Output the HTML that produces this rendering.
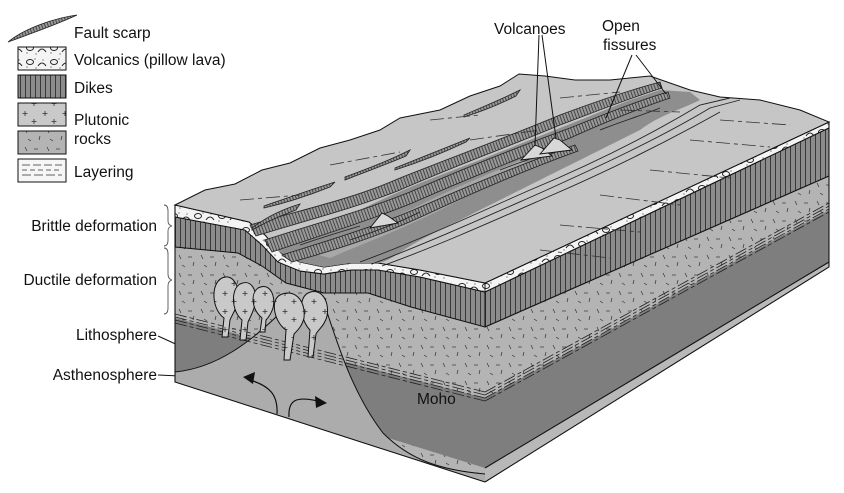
<!DOCTYPE html>
<html><head><meta charset="utf-8"><style>
html,body{margin:0;padding:0;background:#fff;}
svg{display:block;}
text{font-family:"Liberation Sans",Arial,sans-serif;font-size:15.5px;fill:#111;}
</style></head><body>
<svg width="844" height="493" viewBox="0 0 844 493" xmlns="http://www.w3.org/2000/svg">
<defs>
<pattern id="dk" width="5" height="10" patternUnits="userSpaceOnUse"><rect width="5" height="10" fill="#8c8c8c"/><line x1="0.5" y1="0" x2="0.5" y2="10" stroke="#222" stroke-width="0.8"/></pattern>
<pattern id="gb" width="22" height="18" patternUnits="userSpaceOnUse"><rect width="22" height="18" fill="#b4b4b4"/><g stroke="#333" stroke-width="0.7"><line x1="3" y1="3" x2="5" y2="7"/><line x1="12" y1="5" x2="16" y2="5"/><line x1="18" y1="10" x2="17" y2="14"/><line x1="6" y1="13" x2="9" y2="15"/></g></pattern>
<pattern id="pl" width="24" height="14" patternUnits="userSpaceOnUse"><rect width="24" height="14" fill="#f4f4f4"/><g fill="none" stroke="#222" stroke-width="1"><ellipse cx="6" cy="6" rx="3.5" ry="2.5"/><path d="M14 10 q4 -6 8 0"/></g><g fill="#444"><circle cx="11" cy="3" r="0.6"/><circle cx="19" cy="4" r="0.6"/><circle cx="3" cy="11" r="0.6"/><circle cx="12" cy="12" r="0.6"/></g></pattern>
<pattern id="fs" width="3" height="3" patternUnits="userSpaceOnUse" patternTransform="rotate(-20)"><rect width="3" height="3" fill="#9a9a9a"/><line x1="0.5" y1="0" x2="0.5" y2="3" stroke="#222" stroke-width="0.7"/></pattern>
<pattern id="pt" width="20" height="18" patternUnits="userSpaceOnUse"><rect width="20" height="18" fill="#c9c9c9"/><g stroke="#333" stroke-width="0.8"><path d="M5 3v5M2.5 5.5h5"/><path d="M14 11v5M11.5 13.5h5"/></g></pattern>
</defs>

<!-- Legend -->
<path d="M8 42 C25 28 55 18 77 15 C58 24 30 34 8 42Z" fill="url(#fs)" stroke="#222" stroke-width="0.8"/>
<text x="74" y="38">Fault scarp</text>
<rect x="18" y="47" width="48" height="23" fill="url(#pl)" stroke="#111" stroke-width="1"/>
<text x="74" y="65">Volcanics (pillow lava)</text>
<rect x="18" y="75" width="48" height="23" fill="url(#dk)" stroke="#111" stroke-width="1"/>
<text x="74" y="93">Dikes</text>
<rect x="18" y="103" width="48" height="23" fill="url(#pt)" stroke="#111" stroke-width="1"/>
<rect x="18" y="131" width="48" height="23" fill="url(#gb)" stroke="#111" stroke-width="1"/>
<text x="74" y="125">Plutonic</text>
<text x="74" y="144">rocks</text>
<rect x="18" y="159" width="48" height="23" fill="#f6f6f6" stroke="#111" stroke-width="1"/>
<g stroke="#333" stroke-width="0.8"><line x1="22" y1="165" x2="62" y2="165" stroke-dasharray="8 3"/><line x1="22" y1="170" x2="62" y2="170" stroke-dasharray="5 3"/><line x1="22" y1="175" x2="62" y2="175" stroke-dasharray="9 3"/></g>
<text x="74" y="177">Layering</text>

<!-- Left side labels -->
<text x="157" y="231" text-anchor="end">Brittle deformation</text>
<text x="157" y="285" text-anchor="end">Ductile deformation</text>
<text x="157" y="340" text-anchor="end">Lithosphere</text>
<text x="157" y="380" text-anchor="end">Asthenosphere</text>
<g fill="none" stroke="#555" stroke-width="0.9">
<path d="M164 205 q4 0 4 6 v10 q0 4 4 5 q-4 1 -4 5 v9 q0 6 -4 6"/>
<path d="M164 248 q4 0 4 6 v20 q0 5 4 6 q-4 1 -4 6 v22 q0 6 -4 6"/>
</g>
<g stroke="#111" stroke-width="1"><line x1="158" y1="336" x2="180" y2="346"/><line x1="158" y1="375" x2="180" y2="376"/></g>

<!-- Right face -->
<polygon points="485,283 829,122 829,128 485,292" fill="url(#pl)" stroke="#111" stroke-width="0.8"/>
<polygon points="485,292 829,128 829,176 485,327" fill="url(#dk)"/>
<polygon points="485,327 829,176 829,210 485,398" fill="url(#gb)"/>
<polygon points="485,398 829,210 829,262 485,468" fill="#7e7e7e"/>
<polygon points="485,468 829,262 829,267 485,482" fill="#b8b8b8"/>
<g stroke="#222" stroke-width="0.8" fill="none" stroke-dasharray="12 3 4 3">
<line x1="485" y1="392" x2="829" y2="203"/><line x1="485" y1="395" x2="829" y2="206"/><line x1="485" y1="398" x2="829" y2="209"/><line x1="485" y1="401" x2="829" y2="212"/>
</g>
<g stroke="#111" stroke-width="1.1" fill="none">
<polyline points="485,283 829,122 829,267 485,482"/>
<line x1="485" y1="292" x2="829" y2="128"/><line x1="485" y1="327" x2="829" y2="176"/><line x1="485" y1="468" x2="829" y2="262"/>
</g>

<!-- Left face -->
<polygon points="175,205 249,222 265,235 281,253 300,262 324,267 351,263 378,263 420,270 485,283 485,482 175,382" fill="url(#gb)"/>
<!-- mantle dark below layering -->
<polygon points="175,318 485,398 485,468 175,372" fill="#7e7e7e"/>
<!-- asthenosphere -->
<path d="M175,372 C215,368 250,345 293,300 L323,300 C335,335 350,390 383,433 C410,460 440,470 485,474 L485,482 L175,382Z" fill="#acacac"/>
<path d="M175,372 C215,368 250,345 293,300 M323,300 C335,335 350,390 383,433 C410,460 440,470 485,474" fill="none" stroke="#111" stroke-width="1"/>
<g stroke="#222" stroke-width="0.8" stroke-dasharray="12 3 4 3">
<line x1="175" y1="314" x2="485" y2="392"/><line x1="175" y1="317" x2="485" y2="395"/><line x1="175" y1="320" x2="485" y2="398"/><line x1="175" y1="323" x2="485" y2="401"/>
</g>
<!-- dikes band -->
<polygon points="175,217 245,230 262,245 278,262 300,271 324,274 351,270 378,270 420,277 485,292 485,327 411,307 368,293 324,293 286,283 262,266 238,253 175,247" fill="url(#dk)" stroke="#111" stroke-width="1"/>
<!-- pillow band -->
<polygon points="175,205 249,222 265,235 281,253 300,262 324,267 351,263 378,263 420,270 485,283 485,292 420,277 378,270 351,270 324,274 300,271 278,262 262,245 245,230 175,217" fill="url(#pl)" stroke="#111" stroke-width="0.9"/>
<!-- plumes -->
<g stroke="#111" stroke-width="1" fill="url(#pt)">
<path d="M222,337 L224,318 C212,310 210,284 222,278 C232,273 240,285 238,300 C236,310 232,315 230,320 L228,337Z"/>
<path d="M240,340 L242,320 C232,312 230,290 240,284 C252,278 258,292 255,305 C253,312 250,318 248,322 L246,340Z"/>
<path d="M260,332 L262,318 C252,310 250,294 258,288 C270,282 276,296 273,308 C271,314 268,318 266,320 L265,332Z"/>
<path d="M308,357 L310,330 C300,320 298,298 308,293 C320,287 330,300 327,316 C325,325 318,330 316,334 L313,357Z"/>
<path d="M284,360 L286,330 C274,322 270,300 280,295 C294,288 306,300 304,318 C302,326 298,330 294,334 L290,360Z"/>
</g>
<!-- arrows -->
<g fill="none" stroke="#111" stroke-width="1.2"><path d="M277,414 C278,395 270,386 250,380"/><path d="M289,417 C288,400 296,396 318,401"/></g>
<polygon points="243,377 255,372 253,384" fill="#111"/>
<polygon points="327,403 315,396 316,408" fill="#111"/>
<text x="417" y="404">Moho</text>
<g stroke="#111" stroke-width="1.1" fill="none"><polyline points="175,205 175,382 485,482"/></g>

<!-- Top surface -->
<path d="M175,205 L205,190 235,184 262,170 290,163 320,148 350,140 380,130 400,118 440,110 470,96 500,86 519,74 545,76 575,80 610,80 650,76 690,90 720,97 760,100 800,110 829,122 485,283 420,270 378,263 351,263 324,267 300,262 281,253 265,235 249,222Z" fill="#c6c6c6" stroke="#111" stroke-width="1"/>
<!-- rift floor -->
<path d="M262,240 C300,230 330,225 360,210 C400,190 440,175 480,160 C530,140 580,120 630,100 L660,90 L690,92 L700,100 C680,110 660,115 640,130 C600,150 570,165 540,180 C500,200 470,215 430,235 C400,250 390,262 378,263 L351,263 L324,267 L300,262 L281,253Z" fill="#8e8e8e"/>
<path d="M300,250 C340,238 380,225 420,205 C460,185 500,170 520,160 L530,165 C500,180 470,195 440,210 C400,230 360,245 330,258Z" fill="#a8a8a8"/>
<!-- fault scarps left wall -->
<g fill="url(#fs)" stroke="#222" stroke-width="0.8">
<path d="M250,225 C300,210 350,200 400,178 C450,158 500,140 560,115 C600,100 630,90 660,82 L662,88 C630,98 600,110 560,125 C500,150 450,168 400,190 C350,210 300,222 256,236Z"/>
<path d="M265,240 C310,225 360,212 410,192 C460,170 510,150 570,128 C610,112 640,100 668,92 L670,98 C640,108 610,120 570,138 C510,162 460,182 410,204 C360,224 312,238 272,252Z"/>
<path d="M282,255 C330,240 380,225 425,205 C470,185 520,165 575,145 L578,151 C520,172 470,194 425,215 C380,236 335,250 292,262Z"/>
<path d="M395,168 C420,158 445,148 470,138 L466,142 C445,152 420,162 395,170Z"/>
<path d="M345,177 C370,168 390,160 410,150 L406,156 C385,165 365,172 345,180Z"/>
<path d="M264,206 C290,197 310,190 335,182 L330,187 C310,195 290,202 264,208Z"/>
<path d="M252,228 C265,218 280,210 300,204 L296,210 C280,216 266,222 252,230Z"/>
<path d="M464,115 C480,108 500,100 520,90 L516,96 C500,104 480,112 464,117Z"/>
</g>
<!-- right wall lines -->
<g fill="none" stroke="#222" stroke-width="0.9">
<path d="M360,262 C420,240 480,212 530,190 C590,165 650,135 700,105 L730,98"/>
<path d="M372,264 C430,242 490,215 540,193 C600,166 660,138 710,108 L740,100"/>
<path d="M382,266 C440,245 500,218 550,196 C610,170 670,140 720,112"/>
<path d="M300,245 C320,238 340,232 360,226"/>
<path d="M350,240 C380,230 400,222 420,212"/>
<path d="M500,170 C520,162 540,156 560,148"/>
<path d="M600,130 C620,122 640,116 660,108"/>
</g>
<!-- surface dashes -->
<g stroke="#333" stroke-width="0.8" fill="none" stroke-dasharray="14 4 4 4">
<line x1="470" y1="140" x2="540" y2="130"/><line x1="330" y1="165" x2="400" y2="152"/><line x1="560" y1="98" x2="620" y2="92"/>
<line x1="560" y1="225" x2="640" y2="232"/><line x1="600" y1="195" x2="680" y2="205"/><line x1="650" y1="170" x2="730" y2="178"/>
<line x1="690" y1="140" x2="770" y2="147"/><line x1="720" y1="120" x2="790" y2="125"/><line x1="540" y1="250" x2="610" y2="258"/>
<line x1="620" y1="110" x2="680" y2="112"/><line x1="240" y1="200" x2="300" y2="195"/><line x1="430" y1="120" x2="480" y2="115"/>
</g>
<!-- volcanoes -->
<g fill="#d8d8d8" stroke="#111" stroke-width="0.9">
<path d="M521,160 L535,145 L542,148 L552,156Z"/>
<path d="M540,154 L554,138 L560,140 L572,150Z"/>
<path d="M370,228 L382,213 L388,216 L398,223Z"/>
</g>
<g stroke="#111" stroke-width="1"><line x1="539" y1="35" x2="535" y2="146"/><line x1="542" y1="35" x2="556" y2="138"/><line x1="632" y1="55" x2="606" y2="118"/><line x1="636" y1="55" x2="666" y2="94"/></g>
<text x="494" y="34">Volcanoes</text>
<text x="602" y="31">Open</text>
<text x="603" y="50">fissures</text>
</svg>
</body></html>
